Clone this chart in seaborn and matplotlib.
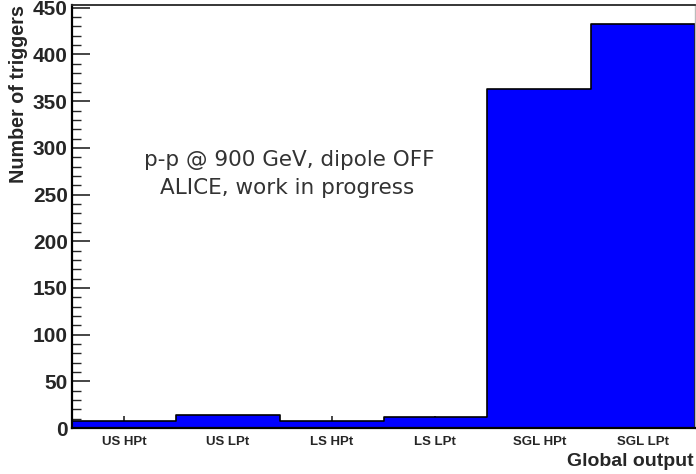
import matplotlib
matplotlib.use("Agg")
import matplotlib.pyplot as plt
from matplotlib.ticker import MultipleLocator
import seaborn as sns
import pandas as pd

# bins of the global trigger output and their counts
categories = ["US HPt", "US LPt", "LS HPt", "LS LPt", "SGL HPt", "SGL LPt"]
counts = [8, 14, 7, 12, 363, 433]
y_ticks = [0, 50, 100, 150, 200, 250, 300, 350, 400, 450]

df = pd.DataFrame({"output": categories, "n": counts})

sns.set_style("ticks")
plt.rcParams["font.family"] = ["Liberation Sans", "DejaVu Sans"]

fig = plt.figure(figsize=(6.96, 4.74), dpi=100)
ax = fig.add_axes([72 / 696, 46 / 474, 623 / 696, 423 / 474])

sns.histplot(data=df, x="output", weights="n", discrete=True, element="step",
             fill=True, color="#0000ff", alpha=1, edgecolor="black", linewidth=1.2, ax=ax)

ax.set_xlim(-0.5, 5.5)
ax.set_ylim(0, 453)
ax.set_xlabel("")
ax.set_ylabel("")
ax.set_yticks(y_ticks)
ax.yaxis.set_minor_locator(MultipleLocator(10))
ax.set_xticks(range(len(categories)))
ax.set_xticklabels(categories, fontsize=9.5, fontweight="bold")
for lab in ax.get_yticklabels():
    lab.set_fontsize(15)
    lab.set_fontweight("bold")

ax.tick_params(axis="y", which="major", direction="in", length=13, width=1.2, pad=3)
ax.tick_params(axis="y", which="minor", direction="in", length=6.5, width=1)
ax.tick_params(axis="x", which="major", direction="in", length=8.5, width=1.2, pad=6)
ax.tick_params(axis="x", which="minor", bottom=False)

for side in ["left", "bottom"]:
    ax.spines[side].set_linewidth(1.6)
    ax.spines[side].set_color("black")
ax.spines["top"].set_visible(True)
ax.spines["top"].set_linewidth(1.3)
ax.spines["right"].set_visible(True)
ax.spines["right"].set_color("#bbbbbb")
ax.spines["right"].set_linewidth(1)

fig.text(0.027, 0.99, "Number of triggers", rotation=90, ha="center", va="top",
         fontsize=14.2, fontweight="bold")
fig.text(0.996, 0.026, "Global output", ha="right", va="center",
         fontsize=14, fontweight="bold")
fig.text(0.415, 0.662, "p-p @ 900 GeV, dipole OFF", ha="center", va="center",
         fontsize=15.5, color="#333333", family="DejaVu Sans")
fig.text(0.413, 0.603, "ALICE, work in progress", ha="center", va="center",
         fontsize=15.5, color="#333333", family="DejaVu Sans")

fig.savefig("out.png", dpi=100)
